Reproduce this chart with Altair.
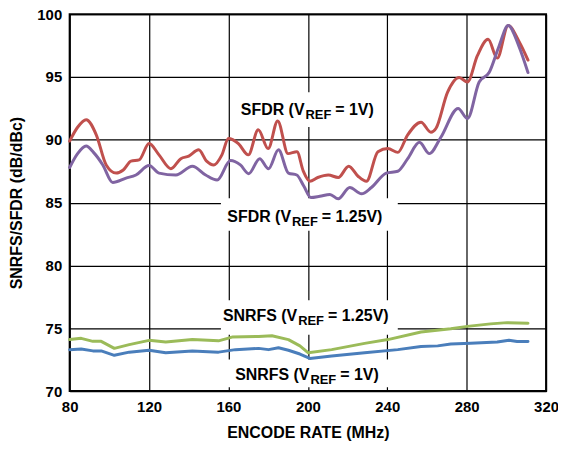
import altair as alt
import pandas as pd

# ---------------- data ----------------
sfdr_1v_x = [80, 84, 88.3, 93.4, 98.4, 103.4, 107, 110.9, 115, 120, 125, 131, 136, 140, 145, 149,
             152.6, 156.7, 160, 165, 170, 175, 180, 184.8, 190, 194.5, 197.7, 201, 205, 210.3,
             215.3, 220.6, 225.3, 229.5, 235.3, 240.3, 245.3, 250.3, 257, 262, 264.5, 270.4,
             276.2, 280.4, 285.4, 290.8, 295.4, 300.9, 306.3, 310.9]
sfdr_1v_y = [89.9, 91.0, 91.6, 90.4, 88.0, 87.35, 87.6, 88.3, 88.4, 89.7, 88.8, 87.7, 88.5, 88.7,
             89.2, 88.3, 88.0, 88.8, 90.1, 89.7, 88.8, 90.8, 89.3, 91.5, 88.9, 89.05, 87.5, 86.7,
             87.0, 87.2, 87.0, 87.9, 87.1, 86.7, 89.05, 89.3, 89.0, 90.4, 91.4, 90.6, 90.9, 93.8,
             94.96, 94.6, 96.7, 98.0, 96.5, 99.1, 97.85, 96.35]

sfdr_125v_x = [80, 84, 88.3, 92, 96.7, 101.7, 108.4, 113.4, 120, 125, 133.5, 141.8, 148.5, 154.3,
               161, 166, 170.2, 175.7, 180.2, 185.2, 190.2, 194.4, 198, 201.5, 206, 211.1, 215.3,
               221.1, 227, 232, 239.5, 245.3, 250.3, 256.2, 261.2, 267, 275.7, 280.4, 286.3,
               291.3, 296.3, 300.9, 306.3, 310.9]
sfdr_125v_y = [87.8, 88.9, 89.5, 89.0, 88.0, 86.6, 86.95, 87.2, 87.95, 87.35, 87.2, 87.9, 87.2,
               86.8, 88.35, 88.0, 87.3, 88.5, 87.7, 89.2, 87.35, 87.2, 86.3, 85.4, 85.5, 85.65,
               85.3, 86.2, 85.7, 86.2, 87.35, 87.5, 88.5, 89.8, 88.9, 90.2, 92.5, 91.7, 94.6,
               95.35, 97.45, 99.1, 97.45, 95.35]

snrfs_125v_x = [80, 85.8, 91.7, 95.9, 102.5, 110, 120, 128.4, 141.8, 155, 161.8, 175.2, 181.9,
                190.2, 196, 200.2, 212, 228.6, 240.3, 257, 272, 280.4, 292, 300.4, 310.9]
snrfs_125v_y = [74.1, 74.2, 73.96, 73.96, 73.4, 73.7, 74.04, 73.9, 74.1, 74.0, 74.3, 74.35, 74.4,
                74.1, 73.6, 73.05, 73.3, 73.8, 74.1, 74.7, 74.96, 75.15, 75.35, 75.45, 75.4]

snrfs_1v_x = [80, 85.8, 91.7, 95.9, 102.5, 110, 120, 128.4, 141.8, 155, 163.5, 175.2, 180.2, 185.2,
              190.2, 196, 201, 212, 228.6, 245.3, 257, 265.4, 272, 282, 295.4, 301.3, 305.4, 310.9]
snrfs_1v_y = [73.3, 73.35, 73.2, 73.2, 72.85, 73.1, 73.25, 73.05, 73.2, 73.1, 73.3, 73.4, 73.3,
              73.45, 73.25, 72.95, 72.6, 72.8, 73.05, 73.3, 73.55, 73.6, 73.75, 73.8, 73.9, 74.05,
              73.95, 73.95]

series_names = ["SFDR 1V", "SFDR 1.25V", "SNRFS 1.25V", "SNRFS 1V"]
series_colors = ["#C0504D", "#8064A2", "#9BBB59", "#4A7EBB"]

x_ticks = [80, 120, 160, 200, 240, 280, 320]
y_ticks = [70, 75, 80, 85, 90, 95, 100]

# annotation labels: text before subscript, subscript, text after, anchor (x, y)
label_head = ["SFDR (V", "SFDR (V", "SNRFS (V", "SNRFS (V"]
label_sub = ["REF", "REF", "REF", "REF"]
label_tail = ["= 1V)", "= 1.25V)", "= 1.25V)", "= 1V)"]
label_x = [198.8, 192.0, 195.1, 201.3]
label_y = [91.97, 83.46, 75.6, 70.87]

# white backgrounds behind the labels (cut the grid)
box_x1 = [162.7, 156.2, 156.2, 156.2]
box_x2 = [237.8, 245.3, 245.3, 245.3]
box_y1 = [91.02, 82.76, 74.49, 70.31]
box_y2 = [93.78, 85.35, 77.24, 72.52]

# ---------------- build tables ----------------
rows = []
for name, xs, ys in zip(series_names,
                        [sfdr_1v_x, sfdr_125v_x, snrfs_125v_x, snrfs_1v_x],
                        [sfdr_1v_y, sfdr_125v_y, snrfs_125v_y, snrfs_1v_y]):
    for i, (a, b) in enumerate(zip(xs, ys)):
        rows.append({"series": name, "x": a, "y": b, "order": i})
df = pd.DataFrame(rows)

labels = pd.DataFrame({"head": label_head, "sub": label_sub, "tail": label_tail,
                       "x": label_x, "y": label_y})
boxes = pd.DataFrame({"x1": box_x1, "x2": box_x2, "y1": box_y1, "y2": box_y2})

FONT = "Liberation Sans"
xscale = alt.Scale(domain=[80, 320], nice=False, zero=False)
yscale = alt.Scale(domain=[70, 100], nice=False, zero=False)
color = alt.Color("series:N", scale=alt.Scale(domain=series_names, range=series_colors), legend=None)

xaxis = alt.Axis(values=x_ticks, title="ENCODE RATE (MHz)", grid=True, ticks=False, domain=False,
                 labelPadding=9, titlePadding=10, labelFlush=False)
yaxis = alt.Axis(values=y_ticks, title="SNRFS/SFDR (dB/dBc)", grid=True, ticks=False, domain=False,
                 labelPadding=8, titlePadding=12, labelFlush=False)

box_layer = alt.Chart(boxes).mark_rect(fill="white", stroke=None).encode(
    x=alt.X("x1:Q", scale=xscale, axis=xaxis),
    x2="x2:Q",
    y=alt.Y("y1:Q", scale=yscale, axis=yaxis),
    y2="y2:Q",
)

sfdr = alt.Chart(df).transform_filter(
    alt.FieldOneOfPredicate(field="series", oneOf=series_names[:2])
).mark_line(strokeWidth=3, interpolate="monotone", strokeCap="round", strokeJoin="round").encode(
    x=alt.X("x:Q", scale=xscale),
    y=alt.Y("y:Q", scale=yscale),
    color=color,
    detail="series:N",
    order="order:Q",
)

snr = alt.Chart(df).transform_filter(
    alt.FieldOneOfPredicate(field="series", oneOf=series_names[2:])
).mark_line(strokeWidth=3, strokeCap="round", strokeJoin="round").encode(
    x=alt.X("x:Q", scale=xscale),
    y=alt.Y("y:Q", scale=yscale),
    color=color,
    detail="series:N",
    order="order:Q",
)

txt_common = dict(font=FONT, fontWeight="bold", color="black", baseline="alphabetic")
head = alt.Chart(labels).mark_text(align="right", dx=-1, fontSize=16, **txt_common).encode(
    x=alt.X("x:Q", scale=xscale), y=alt.Y("y:Q", scale=yscale), text="head:N")
sub = alt.Chart(labels).mark_text(align="left", dy=4, fontSize=13, **txt_common).encode(
    x=alt.X("x:Q", scale=xscale), y=alt.Y("y:Q", scale=yscale), text="sub:N")
tail = alt.Chart(labels).mark_text(align="left", dx=30, fontSize=16, **txt_common).encode(
    x=alt.X("x:Q", scale=xscale), y=alt.Y("y:Q", scale=yscale), text="tail:N")

chart = alt.layer(box_layer, sfdr, snr, head, sub, tail).properties(
    width=479, height=379,
    autosize=alt.AutoSizeParams(type="none"),
    padding={"left": 62, "top": 5, "right": 12, "bottom": 52},
).configure_view(
    stroke="black", strokeWidth=2
).configure_axis(
    gridColor="black", gridWidth=1.2, gridOpacity=1,
    labelFont=FONT, labelFontSize=15, labelFontWeight="bold", labelColor="black",
    titleFont=FONT, titleFontSize=16, titleFontWeight="bold", titleColor="black",
    labelOverlap=False,
)

chart.save("out.html", embed_options={"renderer": "svg", "actions": False})
